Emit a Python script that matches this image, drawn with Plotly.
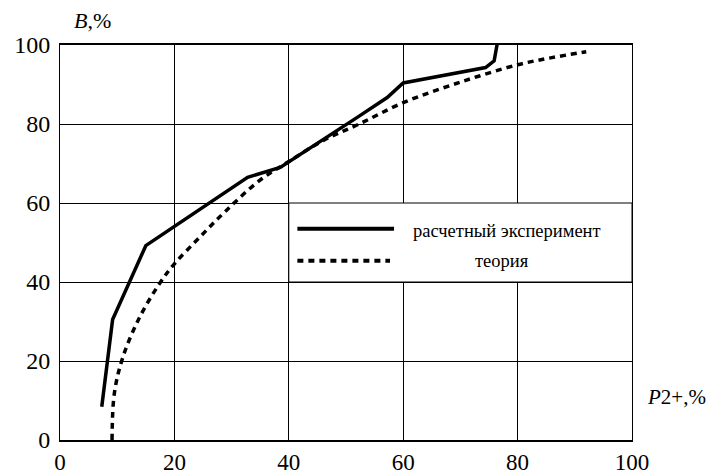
import plotly.graph_objects as go

# Data
exp_x = [7.3, 9.2, 15.0, 32.8, 38.5, 45.3, 52.3, 57.2, 60.0, 74.4, 75.9, 76.4, 76.6]
exp_y = [8.4, 30.5, 49.2, 66.5, 69.0, 75.3, 82.0, 86.7, 90.4, 94.3, 96.0, 100.0, 101.0]

theory_x = [9.1, 9.5, 11.0, 13.9, 17.4, 20.0, 24.4, 29.0, 34.8, 40.0, 46.0, 52.3, 60.0, 70.0, 80.0, 86.0, 92.0]
theory_y = [0.0, 11.8, 21.0, 31.0, 39.6, 44.6, 51.3, 58.0, 65.6, 70.5, 75.8, 80.0, 85.4, 90.6, 95.0, 96.8, 98.3]

x_ticks = [0, 20, 40, 60, 80, 100]
y_ticks = [0, 20, 40, 60, 80, 100]

legend_labels = ["расчетный эксперимент", "теория"]

FONT = "Liberation Serif, Times New Roman, serif"

fig = go.Figure()
fig.add_trace(go.Scatter(x=exp_x, y=exp_y, mode="lines",
                         line=dict(color="black", width=3.5),
                         showlegend=False))
fig.add_trace(go.Scatter(x=theory_x, y=theory_y, mode="lines", line_shape="spline",
                         line=dict(color="black", width=3.5, dash="6px,5px"),
                         showlegend=False))

# Legend box (white area covering grid between x=40..100, y=40..60)
fig.add_shape(type="rect", xref="x", yref="y", x0=40, x1=100, y0=40, y1=60,
              fillcolor="white", line=dict(color="black", width=1), layer="above")
fig.add_shape(type="line", xref="x", yref="y", x0=41.5, x1=58.4, y0=53.5, y1=53.5,
              line=dict(color="black", width=4), layer="above")
fig.add_shape(type="line", xref="x", yref="y", x0=41.5, x1=57.7, y0=45.4, y1=45.4,
              line=dict(color="black", width=4, dash="6px,5px"), layer="above")
fig.add_annotation(x=78.1, y=53.0, xref="x", yref="y", text=legend_labels[0],
                   showarrow=False, font=dict(family=FONT, size=18.5, color="black"))
fig.add_annotation(x=77.3, y=45.2, xref="x", yref="y", text=legend_labels[1],
                   showarrow=False, font=dict(family=FONT, size=18.5, color="black"))

# Axis titles (paper coordinates)
fig.add_annotation(xref="paper", yref="paper", x=0.021, y=1.063, xanchor="left", yanchor="middle",
                   text="<i>B</i>,%", showarrow=False,
                   font=dict(family=FONT, size=22, color="black"))
fig.add_annotation(xref="paper", yref="paper", x=1.022, y=0.109, xanchor="left", yanchor="middle",
                   text="<i>P</i>2+,%", showarrow=False,
                   font=dict(family=FONT, size=21, color="black"))

fig.update_xaxes(range=[0, 100], tickvals=x_ticks, ticktext=[str(v) for v in x_ticks],
                 showgrid=True, gridcolor="black", gridwidth=1,
                 showline=True, linecolor="black", linewidth=2, mirror=True,
                 zeroline=False, ticks="", ticklabelstandoff=0, automargin=False,
                 tickfont=dict(family=FONT, size=23, color="black"), fixedrange=True)
fig.update_yaxes(range=[0, 100], tickvals=y_ticks, ticktext=[str(v) for v in y_ticks],
                 showgrid=True, gridcolor="black", gridwidth=1,
                 showline=True, linecolor="black", linewidth=1, mirror=True,
                 zeroline=False, ticks="", ticklabelstandoff=4, automargin=False,
                 tickfont=dict(family=FONT, size=24, color="black"), fixedrange=True)

# The page body has an 8px default margin, so the figure is made 8px smaller
fig.update_layout(width=707, height=466,
                  margin=dict(l=52, r=83, t=37, b=34),
                  paper_bgcolor="white", plot_bgcolor="white",
                  showlegend=False)

fig.write_html("out.html")
